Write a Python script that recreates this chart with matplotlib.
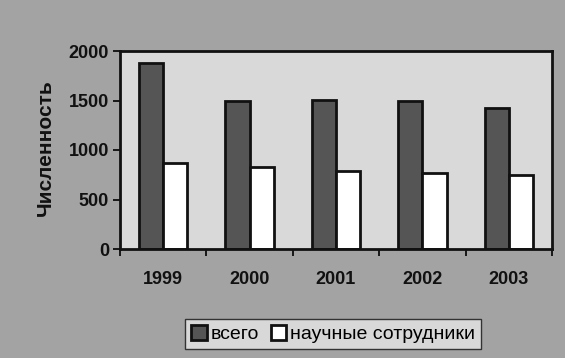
import numpy as np
import matplotlib.pyplot as plt

years = ['1999', '2000', '2001', '2002', '2003']
total = [1880, 1490, 1510, 1500, 1425]
researchers = [870, 830, 790, 765, 745]

plt.rcParams['font.family'] = ['Liberation Sans', 'DejaVu Sans']

fig = plt.figure(figsize=(5.65, 3.58), dpi=100, facecolor='#a3a3a3')
ax = fig.add_axes([120 / 565, 1 - 249 / 358, 432 / 565, 198 / 358])
ax.set_facecolor('#d9d9d9')

x = np.arange(len(years))
w = 0.28
ax.bar(x - w / 2, total, w, color='#555555', edgecolor='#111111', linewidth=2, label='всего')
ax.bar(x + w / 2, researchers, w, color='white', edgecolor='#111111', linewidth=2,
       label='научные сотрудники')

ax.set_xlim(-0.5, len(years) - 0.5)
ax.set_ylim(0, 2000)
ax.set_yticks([0, 500, 1000, 1500, 2000])
ax.set_xticks(x)
ax.set_xticklabels(years)
ax.set_xticks(np.arange(len(years) + 1) - 0.5, minor=True)
ax.tick_params(axis='x', which='major', length=0, pad=16, labelsize=13)
ax.tick_params(axis='x', which='minor', length=5, width=1.2, direction='out')
ax.tick_params(axis='y', length=5, width=1.2, labelsize=13, pad=3)
for lab in ax.get_xticklabels() + ax.get_yticklabels():
    lab.set_fontweight('bold')
    lab.set_color('#111111')
for s in ax.spines.values():
    s.set_linewidth(2)
    s.set_color('#111111')

fig.text(45 / 565, 1 - 148 / 358, 'Численность', rotation=90, ha='center', va='center',
         fontsize=15, fontweight='bold', color='#111111')

fig.legend(loc='center', bbox_to_anchor=(333 / 565, 1 - 334 / 358), ncol=2,
           fontsize=14, frameon=True, fancybox=False, edgecolor='#111111',
           facecolor='#e6e6e6', handlelength=0.8, handleheight=0.8,
           handletextpad=0.2, columnspacing=0.6, borderpad=0.3)

fig.savefig('out.png', dpi=100, facecolor=fig.get_facecolor())
